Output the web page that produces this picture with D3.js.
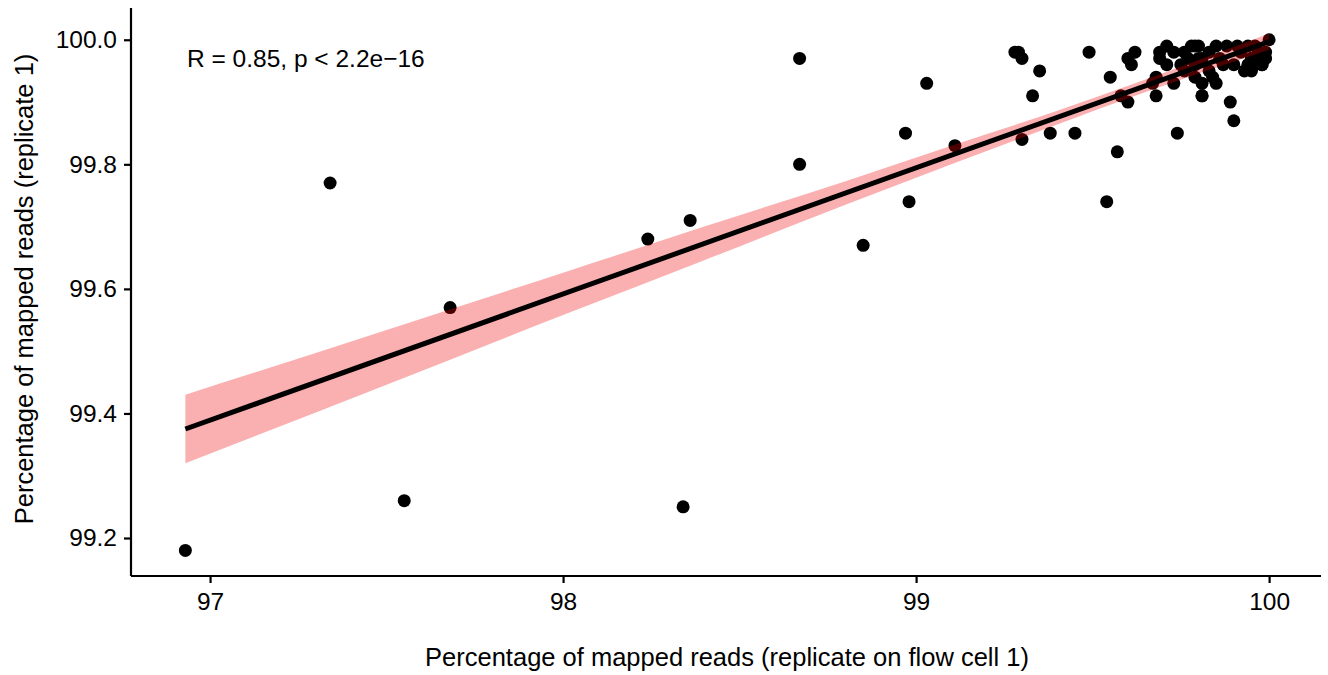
<!DOCTYPE html>
<html><head><meta charset="utf-8">
<script src="https://cdn.jsdelivr.net/npm/d3@7"></script>
<style>body{margin:0;background:#fff}text{font-family:"Liberation Sans",Arial,sans-serif}</style>
</head><body>
<svg id="c" width="1328" height="675"></svg>
<script>
// Percentage of mapped reads: replicate on flow cell 1 (x) vs replicate 1 (y)
const xVals = [96.93,97.34,97.55,97.68,98.24,98.34,98.36,98.67,98.67,98.85,98.97,98.98,99.03,99.11,
  99.28,99.29,99.30,99.35,99.33,99.49,99.38,99.45,99.30,99.57,99.54,99.55,99.60,99.62,99.61,99.58,99.60,
  99.68,99.74,99.81,99.89,99.90,99.69,99.71,99.67,99.73,99.78,99.80,99.85,99.91,99.95,99.81,99.85,
  99.69,99.73,99.76,99.77,99.81,99.75,99.68,99.79,99.81,99.94,100.0,99.80,99.86,99.90,99.96,99.98,99.95,
  99.84,99.83,99.79,99.96,99.97,99.99,99.95,99.98,99.94,99.87,99.83,99.79,99.92,99.88,99.99,99.97,99.93,99.71,99.76];
const yVals = [99.18,99.77,99.26,99.57,99.68,99.25,99.71,99.97,99.80,99.67,99.85,99.74,99.93,99.83,
  99.98,99.98,99.97,99.95,99.91,99.98,99.85,99.85,99.84,99.82,99.74,99.94,99.97,99.98,99.96,99.91,99.90,
  99.91,99.85,99.91,99.90,99.87,99.97,99.99,99.93,99.93,99.99,99.99,99.99,99.99,99.95,99.93,99.93,
  99.98,99.98,99.98,99.97,99.97,99.96,99.94,99.94,99.91,99.99,100.0,99.97,99.97,99.96,99.96,99.96,99.97,
  99.94,99.95,99.96,99.99,99.98,99.97,99.97,99.96,99.96,99.96,99.98,99.99,99.98,99.99,99.98,99.97,99.95,99.96,99.95];
// Linear fit and its confidence band
const fitX = [96.93, 100.0];
const fitY = [99.375, 99.997];
const bandX  = [96.93, 97.5, 98.0, 98.4, 98.8, 99.1, 99.4, 99.65, 100.0];
const bandLo = [99.320, 99.446, 99.558, 99.646, 99.735, 99.800, 99.864, 99.916, 99.984];
const bandHi = [99.430, 99.534, 99.626, 99.700, 99.773, 99.830, 99.886, 99.936, 100.010];
const xTicks = [97, 98, 99, 100];
const yTicks = [99.2, 99.4, 99.6, 99.8, 100.0];
const annotation = "R = 0.85, p < 2.2e\u221216";
const xTitle = "Percentage of mapped reads (replicate on flow cell 1)";
const yTitle = "Percentage of mapped reads (replicate 1)";

const svg = d3.select("#c");
const L = 131, R = 1321, T = 8, B = 576;
const x = d3.scaleLinear().domain([96.776, 100.147]).range([L, R]);
const y = d3.scaleLinear().domain([99.139, 100.051]).range([B, T]);

const pts = xVals.map((v,i)=>({x:v,y:yVals[i]}));
svg.append("g").selectAll("circle").data(pts).join("circle")
  .attr("cx",d=>x(d.x)).attr("cy",d=>y(d.y)).attr("r",6.5).attr("fill","#000");

const band = bandX.map((v,i)=>({x:v,lo:bandLo[i],hi:bandHi[i]}));
svg.append("path").datum(band)
  .attr("d", d3.area().x(d=>x(d.x)).y0(d=>y(d.lo)).y1(d=>y(d.hi)).curve(d3.curveMonotoneX))
  .attr("fill","#f00000").attr("fill-opacity",0.31);

svg.append("path").datum(fitX.map((v,i)=>({x:v,y:fitY[i]})))
  .attr("d", d3.line().x(d=>x(d.x)).y(d=>y(d.y)))
  .attr("stroke","#000").attr("stroke-width",5).attr("fill","none");

const xa = svg.append("g").attr("transform",`translate(0,${B})`)
  .call(d3.axisBottom(x).tickValues(xTicks).tickFormat(d3.format("d")).tickSize(7).tickPadding(10));
const ya = svg.append("g").attr("transform",`translate(${L},0)`)
  .call(d3.axisLeft(y).tickValues(yTicks).tickFormat(d3.format(".1f")).tickSize(7).tickPadding(7));
[xa,ya].forEach(a=>{
  a.select(".domain").attr("stroke","#000").attr("stroke-width",2.2);
  a.selectAll(".tick line").attr("stroke","#000").attr("stroke-width",2.2);
  a.selectAll(".tick text").attr("font-size",24.5).attr("fill","#000")
   .style("font-family",'"Liberation Sans",Arial,sans-serif');
});
xa.select(".domain").attr("d",`M${L},0H${R}`);
ya.select(".domain").attr("d",`M0,${T}V${B}`);

svg.append("text").attr("x",187).attr("y",67).attr("font-size",24.5).attr("fill","#000").text(annotation);
svg.append("text").attr("x",727).attr("y",666).attr("text-anchor","middle").attr("font-size",25.5).attr("fill","#000").text(xTitle);
svg.append("text").attr("transform","translate(33,289) rotate(-90)").attr("text-anchor","middle").attr("font-size",25.5).attr("fill","#000").text(yTitle);
</script>
</body></html>
